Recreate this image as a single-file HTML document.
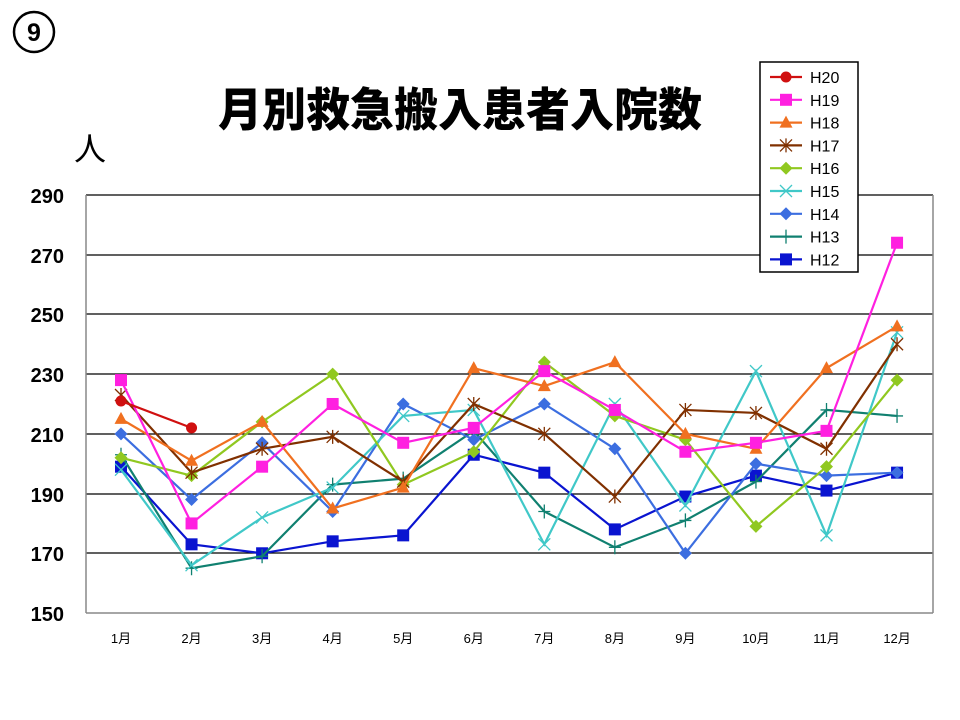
<!DOCTYPE html>
<html><head><meta charset="utf-8"><style>
body{margin:0;background:#fff;width:960px;height:720px;overflow:hidden}
svg{display:block}
text{font-family:"Liberation Sans","Noto Sans CJK JP",sans-serif}
</style></head><body>
<svg width="960" height="720" viewBox="0 0 960 720" xmlns="http://www.w3.org/2000/svg">
<circle cx="34" cy="32" r="20" fill="none" stroke="#000" stroke-width="2.5"/>
<text x="34" y="41" font-size="25" font-weight="bold" text-anchor="middle">9</text>
<text x="460" y="126" font-size="44" font-weight="900" text-anchor="middle" font-family="'Noto Sans CJK JP',sans-serif" transform="translate(460,0) scale(1,1.05) translate(-460,-6)">月別救急搬入患者入院数</text>
<text x="90" y="160" font-size="32" text-anchor="middle" font-family="'Noto Sans CJK JP',sans-serif">人</text>
<g stroke="#000" stroke-width="1.3">
<line x1="86" x2="933" y1="195" y2="195"/><line x1="86" x2="933" y1="255" y2="255"/>
<line x1="86" x2="933" y1="314" y2="314"/><line x1="86" x2="933" y1="374" y2="374"/>
<line x1="86" x2="933" y1="434" y2="434"/><line x1="86" x2="933" y1="494" y2="494"/>
<line x1="86" x2="933" y1="553" y2="553"/>
</g>
<g stroke="#888" stroke-width="1.5" fill="none"><line x1="86" y1="195" x2="86" y2="613"/><line x1="933" y1="195" x2="933" y2="613"/><line x1="86" y1="613" x2="933" y2="613"/></g>
<g font-size="20" text-anchor="end" font-weight="bold">
<text x="64" y="203">290</text><text x="64" y="263">270</text><text x="64" y="322">250</text><text x="64" y="382">230</text><text x="64" y="442">210</text><text x="64" y="502">190</text><text x="64" y="561">170</text><text x="64" y="621">150</text>
</g>
<g font-size="13" text-anchor="middle" id="xl"></g>
<g id="series"></g>
<rect x="760" y="62" width="98" height="210" fill="#fff" stroke="#000" stroke-width="1.5"/>
<g id="leg"></g>
<script>
var xs=[],i;for(i=0;i<12;i++)xs.push(121+i*70.55);
function Y(v){return 613-(v-150)*2.986;}
var S=[
["H20","#d01010","circle",[221,212]],
["H19","#ff20e0","square",[228,180,199,220,207,212,231,218,204,207,211,274]],
["H18","#f07020","tri",[215,201,214,185,192,232,226,234,210,205,232,246]],
["H17","#803000","star",[223,197,205,209,194,220,210,189,218,217,205,240]],
["H16","#90c820","diam",[202,196,214,230,193,204,234,216,208,179,199,228]],
["H15","#40c8c8","x",[198,166,182,192,216,218,173,220,186,231,176,244]],
["H14","#3c6ee0","diam",[210,188,207,184,220,208,220,205,170,200,196,197]],
["H13","#108070","plus",[203,165,169,193,195,211,184,172,181,194,218,216]],
["H12","#0a14d0","square",[199,173,170,174,176,203,197,178,189,196,191,197]]];
var NS="http://www.w3.org/2000/svg";
function el(t,a,p){var e=document.createElementNS(NS,t);for(var k in a)e.setAttribute(k,a[k]);p.appendChild(e);return e;}
function mk(type,c,x,y,p){
 if(type=="circle")el("circle",{cx:x,cy:y,r:5.5,fill:c},p);
 else if(type=="square")el("rect",{x:x-6,y:y-6,width:12,height:12,fill:c},p);
 else if(type=="tri")el("polygon",{points:(x)+","+(y-7)+" "+(x+6.5)+","+(y+5)+" "+(x-6.5)+","+(y+5),fill:c},p);
 else if(type=="diam")el("polygon",{points:x+","+(y-6.5)+" "+(x+6.5)+","+y+" "+x+","+(y+6.5)+" "+(x-6.5)+","+y,fill:c},p);
 else if(type=="x"){el("path",{d:"M"+(x-6)+" "+(y-6)+"L"+(x+6)+" "+(y+6)+"M"+(x-6)+" "+(y+6)+"L"+(x+6)+" "+(y-6),stroke:c,"stroke-width":1.3},p);}
 else if(type=="plus"){el("path",{d:"M"+(x-6)+" "+y+"L"+(x+6)+" "+y+"M"+x+" "+(y-7)+"L"+x+" "+(y+7),stroke:c,"stroke-width":1.3},p);}
 else if(type=="star"){el("path",{d:"M"+(x-6)+" "+(y-6)+"L"+(x+6)+" "+(y+6)+"M"+(x-6)+" "+(y+6)+"L"+(x+6)+" "+(y-6)+"M"+x+" "+(y-7)+"L"+x+" "+(y+7),stroke:c,"stroke-width":1.3},p);}
}
var g=document.getElementById("series");
for(i=S.length-1;i>=0;i--){var s=S[i],pts=s[3].map(function(v,j){return xs[j]+","+Y(v);}).join(" ");
 el("polyline",{points:pts,fill:"none",stroke:s[1],"stroke-width":2.2},g);
 s[3].forEach(function(v,j){mk(s[2],s[1],xs[j],Y(v),g);});}
var xl=document.getElementById("xl");
for(i=0;i<12;i++){var t=el("text",{x:xs[i],y:643},xl);t.textContent=(i+1)+"月";}
var lg=document.getElementById("leg");
S.forEach(function(s,k){var y=77+k*22.8;el("line",{x1:770,x2:802,y1:y,y2:y,stroke:s[1],"stroke-width":2.2},lg);mk(s[2],s[1],786,y,lg);
 var t=el("text",{x:810,y:y+6,"font-size":16},lg);t.textContent=s[0];});
</script>
</svg>
</body></html>
